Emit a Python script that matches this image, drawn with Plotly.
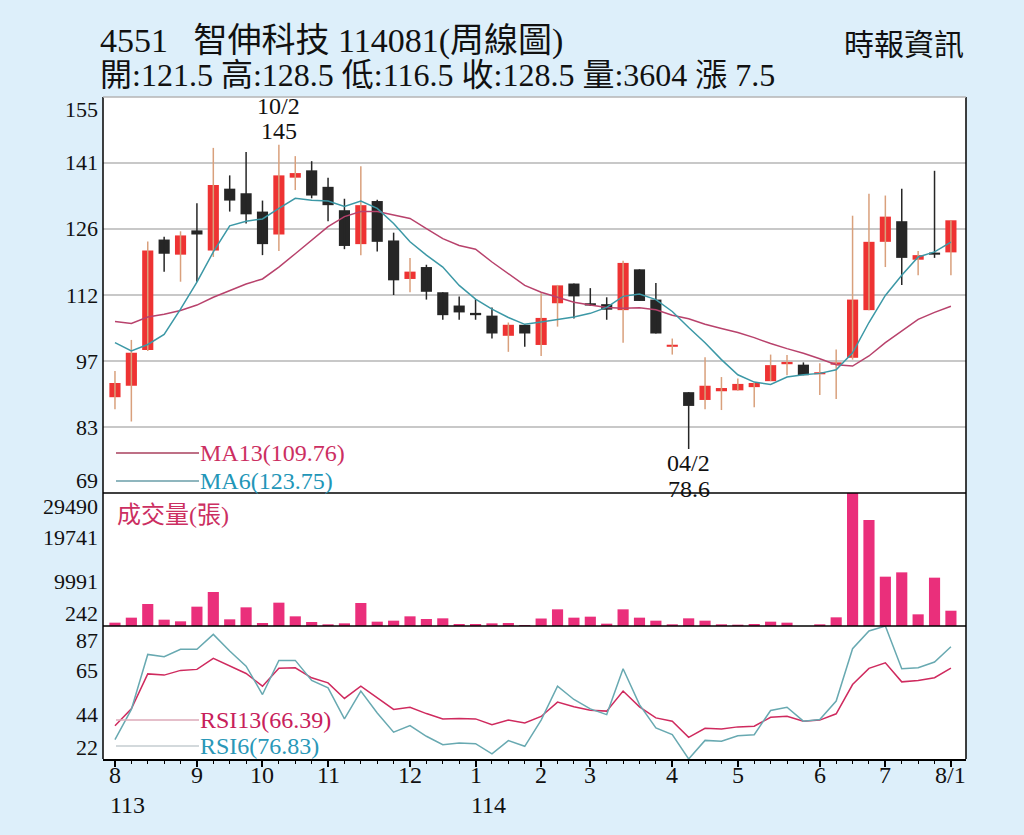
import plotly.graph_objects as go

# weekly bars, 113/08 .. 114/08 (no bar for the Lunar New Year week)
weeks = ["2024-08-02", "2024-08-09", "2024-08-16", "2024-08-23", "2024-08-30",
         "2024-09-06", "2024-09-13", "2024-09-20", "2024-09-27", "2024-10-04",
         "2024-10-11", "2024-10-18", "2024-10-25", "2024-11-01", "2024-11-08",
         "2024-11-15", "2024-11-22", "2024-11-29", "2024-12-06", "2024-12-13",
         "2024-12-20", "2024-12-27", "2025-01-03", "2025-01-10", "2025-01-17",
         "2025-01-22", "2025-02-07", "2025-02-14", "2025-02-21", "2025-02-27",
         "2025-03-07", "2025-03-14", "2025-03-21", "2025-03-28", "2025-04-03",
         "2025-04-11", "2025-04-18", "2025-04-25", "2025-05-02", "2025-05-09",
         "2025-05-16", "2025-05-23", "2025-05-29", "2025-06-06", "2025-06-13",
         "2025-06-20", "2025-06-27", "2025-07-04", "2025-07-11", "2025-07-18",
         "2025-07-25", "2025-08-01"]

opens = [89.9, 92.4, 100.2, 124.3, 121.0, 126.3, 121.9, 135.4, 134.4, 130.4,
         125.4, 137.8, 139.4, 135.8, 130.7, 123.3, 132.7, 124.1, 115.7, 118.3,
         112.8, 109.9, 108.3, 107.7, 103.3, 105.7, 101.3, 110.4, 114.7, 110.4,
         110.2, 108.9, 117.8, 111.2, 100.9, 91.0, 89.3, 91.2, 91.4, 92.1,
         93.4, 97.1, 97.0, 94.9, 97.0, 98.5, 108.9, 123.8, 128.3, 119.9,
         121.2, 121.5]
highs = [95.6, 102.4, 123.9, 124.9, 126.1, 132.2, 144.3, 138.3, 143.4, 132.8,
         145.0, 142.5, 141.4, 137.8, 133.2, 140.3, 133.0, 125.8, 120.3, 118.8,
         112.8, 111.9, 111.3, 109.5, 106.2, 105.8, 112.6, 114.4, 114.7, 113.7,
         111.7, 119.7, 117.8, 114.8, 102.7, 91.0, 98.6, 94.3, 94.0, 93.1,
         99.2, 99.1, 97.5, 97.3, 100.3, 129.5, 134.3, 133.9, 135.4, 121.8,
         139.3, 128.5]
lows = [87.3, 84.6, 100.0, 117.3, 115.1, 115.1, 120.5, 130.4, 127.8, 120.9,
        121.8, 135.1, 133.3, 128.3, 122.2, 120.9, 121.7, 112.2, 112.8, 111.2,
        106.8, 106.8, 106.8, 102.7, 99.8, 100.9, 98.9, 105.3, 107.1, 109.8,
        106.8, 101.8, 110.9, 103.8, 99.2, 78.6, 87.3, 87.1, 91.3, 87.7,
        93.4, 94.7, 94.7, 90.4, 89.5, 98.1, 108.9, 118.3, 114.4, 116.5,
        120.3, 116.5]
closes = [93.0, 99.6, 121.9, 121.2, 125.2, 125.4, 136.2, 132.8, 129.8, 123.3,
          138.3, 138.8, 133.9, 131.8, 122.9, 131.8, 123.8, 115.4, 117.3, 112.9,
          107.8, 108.4, 107.8, 103.8, 105.7, 103.8, 107.2, 114.3, 111.9, 109.9,
          109.0, 119.2, 110.9, 103.8, 101.1, 88.0, 92.4, 91.9, 92.8, 93.0,
          96.9, 97.6, 94.7, 95.1, 97.5, 111.2, 123.8, 129.3, 120.3, 120.9,
          121.0, 128.5]

ma13 = [106.4, 106.0, 107.4, 108.0, 108.8, 110.0, 111.7, 113.1, 114.6, 115.7,
        118.3, 121.2, 124.1, 127.1, 129.3, 130.4, 130.4, 129.6, 128.9, 126.7,
        124.5, 123.0, 122.2, 119.4, 116.8, 114.3, 112.8, 111.7, 110.6, 110.0,
        109.5, 109.3, 109.4, 109.0, 107.8, 107.0, 105.8, 104.9, 104.0, 102.9,
        101.6, 100.5, 99.5, 98.3, 97.0, 96.7, 98.9, 101.8, 104.4, 106.9,
        108.4, 109.76]
ma6 = [101.8, 100.0, 101.4, 103.6, 109.1, 115.0, 121.6, 127.3, 128.3, 128.8,
       131.1, 133.3, 132.9, 132.7, 131.5, 132.7, 131.1, 127.8, 123.8, 120.9,
       118.3, 114.3, 111.3, 109.1, 107.3, 105.8, 106.3, 106.9, 107.4, 108.2,
       109.5, 111.9, 112.4, 111.2, 108.6, 105.1, 101.8, 98.1, 94.8, 93.2,
       92.7, 94.3, 94.8, 95.1, 95.9, 99.6, 106.2, 112.1, 116.5, 120.5,
       121.6, 123.75]

volume = [975, 2075, 5080, 1635, 1268, 4493, 7719, 1708, 4347, 902,
          5373, 2368, 1122, 609, 828, 5300, 1195, 1415, 2368, 1781,
          1928, 682, 682, 828, 902, 462, 1890, 3907, 2075, 2294,
          755, 3907, 2075, 1415, 609, 1928, 1415, 609, 535, 682,
          1195, 975, 242, 609, 2148, 29490, 23550, 11090, 12040, 2808,
          10870, 3604]

rsi13 = [38.3, 46.5, 63.6, 63.0, 65.3, 65.8, 71.2, 67.4, 63.8, 57.6,
         66.3, 66.6, 61.7, 59.2, 51.6, 57.6, 51.9, 46.2, 47.3, 44.2,
         41.6, 41.8, 41.6, 38.8, 41.0, 39.6, 42.8, 49.8, 47.5, 45.8,
         45.4, 55.2, 47.5, 42.1, 40.5, 32.6, 37.0, 36.7, 37.7, 38.0,
         42.4, 42.9, 40.5, 41.0, 44.1, 58.4, 66.3, 69.0, 59.7, 60.4,
         61.7, 66.39]
rsi6 = [31.5, 46.2, 73.1, 72.0, 75.6, 75.6, 82.9, 74.8, 67.4, 53.5,
        70.2, 70.2, 60.4, 56.8, 41.6, 55.2, 44.5, 35.1, 38.3, 33.1,
        29.0, 29.8, 29.5, 24.5, 31.0, 28.2, 41.0, 57.6, 51.1, 46.5,
        43.7, 66.1, 48.6, 37.2, 33.9, 22.0, 31.1, 30.7, 33.4, 33.9,
        45.7, 47.3, 40.5, 41.3, 50.3, 75.9, 84.6, 87.0, 66.1, 66.6,
        69.4, 76.83]

month_pos = [0, 5, 9, 13, 18, 22, 26, 29, 34, 38, 43, 47, 51]
month_text = ["8", "9", "10", "11", "12", "1", "2", "3", "4", "5", "6", "7", "8/1"]
year_pos = [0, 22]
year_text = ["113", "114"]

price_ticks = [69, 83.4, 97.8, 112.2, 126.6, 141, 155.4]
price_labels = ["69", "83", "97", "112", "126", "141", "155"]
vol_ticks = [242, 9991, 19741, 29490]
rsi_ticks = [22, 43.67, 65.33, 87]
rsi_labels = ["22", "44", "65", "87"]

FONT = "Liberation Serif, 'Noto Sans CJK TC', serif"
BG = "#ddeffa"
RED = "#ee3333"
BLACK = "#262626"
RED_WICK = "#d9a07c"

x = list(range(len(weeks)))
W, H = 1024, 835


def px(v):
    return v / W


def py(v):
    return 1 - v / H


fig = go.Figure()

# candle wicks
up = [i for i in x if closes[i] >= opens[i]]
dn = [i for i in x if closes[i] < opens[i]]
for idx, col in ((up, RED_WICK), (dn, BLACK)):
    wx, wy = [], []
    for i in idx:
        wx += [i, i, None]
        wy += [lows[i], highs[i], None]
    fig.add_trace(go.Scatter(x=wx, y=wy, mode="lines", line=dict(color=col, width=1.5),
                             hoverinfo="skip", xaxis="x", yaxis="y"))

# candle bodies
base = [min(o, c) for o, c in zip(opens, closes)]
body = [max(abs(c - o), 0.45) for o, c in zip(opens, closes)]
colors = [RED if c >= o else BLACK for o, c in zip(opens, closes)]
fig.add_trace(go.Bar(x=x, y=body, base=base, width=0.68, marker=dict(color=colors, line_width=0),
                     customdata=weeks, hovertemplate="%{customdata}<extra></extra>",
                     xaxis="x", yaxis="y"))

fig.add_trace(go.Scatter(x=x, y=ma13, mode="lines", line=dict(color="#b8426c", width=1.5),
                         xaxis="x", yaxis="y"))
fig.add_trace(go.Scatter(x=x, y=ma6, mode="lines", line=dict(color="#3c98a6", width=1.5),
                         xaxis="x", yaxis="y"))

# volume
fig.add_trace(go.Bar(x=x, y=volume, width=0.68, marker=dict(color="#ea2f7b", line_width=0),
                     xaxis="x2", yaxis="y2"))

# RSI
fig.add_trace(go.Scatter(x=x, y=rsi13, mode="lines", line=dict(color="#cf2a5e", width=1.5),
                         xaxis="x3", yaxis="y3"))
fig.add_trace(go.Scatter(x=x, y=rsi6, mode="lines", line=dict(color="#68a9b1", width=1.5),
                         xaxis="x3", yaxis="y3"))

xdom = [px(103), px(966)]
hidden_x = dict(domain=xdom, range=[-0.73, 51.92], showgrid=False, zeroline=False,
                showticklabels=False, fixedrange=True)

fig.update_layout(
    width=W, height=H, margin=dict(l=0, r=0, t=0, b=0),
    paper_bgcolor=BG, plot_bgcolor="white",
    showlegend=False, barmode="overlay",
    font=dict(family=FONT, color="#111111", size=22),
    xaxis=dict(anchor="y", **hidden_x),
    xaxis2=dict(anchor="y2", matches="x", **hidden_x),
    xaxis3=dict(anchor="y3", matches="x", domain=xdom, range=[-0.73, 51.92],
                showgrid=False, zeroline=False, tickmode="array", fixedrange=True,
                tickvals=month_pos, showticklabels=False, ticks="outside", ticklen=6,
                tickwidth=1.5, tickcolor="black", showline=True, linecolor="black",
                linewidth=1.5,
                minor=dict(tickmode="linear", tick0=0, dtick=1, ticks="outside",
                           ticklen=3, tickcolor="black", tickwidth=1)),
    yaxis=dict(domain=[py(493), py(97)], range=[69, 155.4], tickvals=price_ticks,
               showticklabels=False, showgrid=True, gridcolor="#c8c8c8", gridwidth=1.5,
               zeroline=False, fixedrange=True),
    yaxis2=dict(domain=[py(626), py(493)], range=[242, 29490], showgrid=False,
                showticklabels=False, zeroline=False, fixedrange=True),
    yaxis3=dict(domain=[py(759), py(626)], range=[22, 87], showgrid=False,
                showticklabels=False, zeroline=False, fixedrange=True),
)

# panel frame
line_k = dict(color="black", width=1.5)
shapes = [
    dict(type="line", xref="paper", yref="paper", x0=px(103), x1=px(103), y0=py(759), y1=py(97), line=line_k),
    dict(type="line", xref="paper", yref="paper", x0=px(966), x1=px(966), y0=py(759), y1=py(97), line=line_k),
    dict(type="line", xref="paper", yref="paper", x0=px(103), x1=px(966), y0=py(97), y1=py(97),
         line=dict(color="#b5b5b5", width=1.5)),
    dict(type="line", xref="paper", yref="paper", x0=px(103), x1=px(966), y0=py(493), y1=py(493), line=line_k),
    dict(type="line", xref="paper", yref="paper", x0=px(103), x1=px(966), y0=py(626), y1=py(626), line=line_k),
]
# legend keys
for ypix, col in ((453, "#a8405e"), (481, "#6a9ea8"), (720, "#dcaab8"), (746, "#c4cdd0")):
    shapes.append(dict(type="line", xref="paper", yref="paper", x0=px(116), x1=px(199),
                       y0=py(ypix), y1=py(ypix), line=dict(color=col, width=1.5)))
fig.update_layout(shapes=shapes)

ann = []


def label(text, y, yref, shift=0):
    ann.append(dict(text=text, xref="paper", x=px(100), xanchor="right", yref=yref, y=y,
                    yanchor="middle", yshift=shift, showarrow=False, font=dict(size=22)))


for i, (v, t) in enumerate(zip(price_ticks, price_labels)):
    label(t, v, "y", 13 if i == 0 else (-13 if i == len(price_ticks) - 1 else 0))
for i, v in enumerate(vol_ticks):
    label(str(v), v, "y2", 13 if i == 0 else (-14 if i == len(vol_ticks) - 1 else 0))
for i, (v, t) in enumerate(zip(rsi_ticks, rsi_labels)):
    label(t, v, "y3", 12 if i == 0 else (-14 if i == len(rsi_ticks) - 1 else 0))

# month / year labels under the time axis
for p, t in zip(month_pos, month_text):
    ann.append(dict(text=t, x=p, xref="x3", y=py(775), yref="paper", yanchor="middle",
                    showarrow=False, font=dict(size=24)))
for p, t in zip(year_pos, year_text):
    ann.append(dict(text=t, x=p, xref="x3", xanchor="left", xshift=-7, y=py(805),
                    yref="paper", yanchor="middle", showarrow=False, font=dict(size=24)))


def text(t, xp, yp, size, color="#111111", anchor="left"):
    ann.append(dict(text=t, xref="paper", x=px(xp), xanchor=anchor, yref="paper", y=py(yp),
                    yanchor="middle", showarrow=False, font=dict(size=size, color=color)))


text("4551\u00a0\u00a0\u00a0智伸科技 114081(周線圖)", 98, 41, 34)
text("開:121.5 高:128.5 低:116.5 收:128.5 量:3604 漲 7.5", 98, 75, 32)
text("時報資訊", 966, 45, 30, anchor="right")
text("MA13(109.76)", 198, 453, 24, "#cc2f62")
text("MA6(123.75)", 198, 481, 24, "#2296b8")
text("成交量(張)", 115, 515, 24, "#cc2f62")
text("RSI13(66.39)", 198, 720, 24, "#c8205a")
text("RSI6(76.83)", 198, 746, 24, "#2a98b8")

# high / low callouts
hi = highs.index(max(highs))
lo = lows.index(min(lows))
for t, sh in (("10/2", 39), ("%g" % highs[hi], 14)):
    ann.append(dict(text=t, x=hi, y=highs[hi], xref="x", yref="y", yshift=sh, showarrow=False,
                    font=dict(size=24)))
for t, sh in (("04/2", -14), ("%g" % lows[lo], -40)):
    ann.append(dict(text=t, x=lo, y=lows[lo], xref="x", yref="y", yshift=sh, showarrow=False,
                    font=dict(size=24)))
fig.update_layout(annotations=ann)

# drop the page's default body margin so the figure sits at the window origin
fig.write_html("out.html", config={"displayModeBar": False},
               post_script="document.body.style.margin='0';"
                           "document.body.style.background='%s';" % BG)
